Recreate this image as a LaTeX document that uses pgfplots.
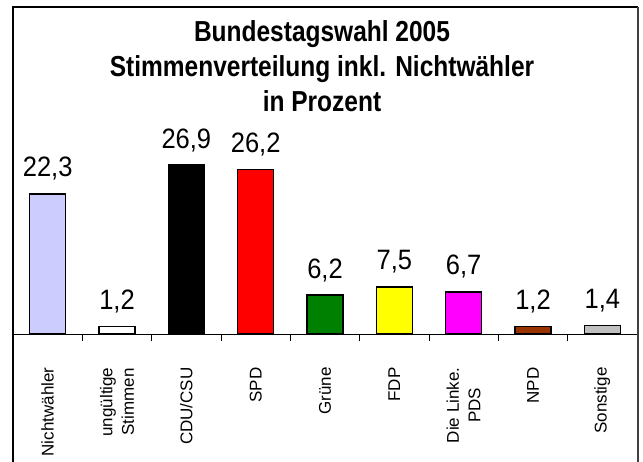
\documentclass[border=0pt]{standalone}
\usepackage{pgfplots}
\pgfplotsset{compat=1.18}
\usepackage{fontspec}
\setmainfont{Liberation Sans}
\definecolor{cNicht}{RGB}{204,204,255}
\definecolor{cNPD}{RGB}{153,51,0}
\definecolor{cGrau}{RGB}{192,192,192}
\definecolor{cGruen}{RGB}{0,128,0}
\definecolor{cMag}{RGB}{255,0,255}
\definecolor{cRot}{RGB}{255,0,0}
\definecolor{cGelb}{RGB}{255,255,0}
\begin{document}
\begin{tikzpicture}
\begin{axis}[
  name=ax,
  scale only axis,
  width=624pt, height=188.4pt,
  xmin=-0.5, xmax=8.5, ymin=0, ymax=30,
  clip=false,
  axis x line*=bottom,
  axis y line=none,
  x axis line style={-, line width=1pt},
  xtick={0,...,8},
  xticklabels={Nichtwähler,{ungültige\\Stimmen},CDU/CSU,SPD,Grüne,FDP,{Die Linke.\\PDS},NPD,Sonstige},
  major tick length=0pt,
  minor xtick={0.5,1.5,...,7.5},
  minor tick length=7pt,
  tick align=outside,
  tick style={black, line width=1pt},
  xticklabel style={rotate=90, anchor=east, align=center, font=\fontsize{17}{21.5}\selectfont},
  xticklabel shift=30pt,
  nodes near coords={\pgfmathprintnumber[use comma,fixed,fixed zerofill,precision=1,assume math mode=true]{\pgfplotspointmeta}},
  every node near coord/.append style={font=\fontsize{25.5}{30}\selectfont, black, yshift=9pt, yscale=1.1},
  every axis plot/.append style={ybar, bar width=36pt, draw=black, line width=1.3pt},
]
\addplot[fill=cNicht] coordinates {(0,22.3)};
\addplot[fill=white] coordinates {(1,1.2)};
\addplot[fill=black] coordinates {(2,26.9)};
\addplot[fill=cRot] coordinates {(3,26.2)};
\addplot[fill=cGruen] coordinates {(4,6.2)};
\addplot[fill=cGelb] coordinates {(5,7.5)};
\addplot[fill=cMag] coordinates {(6,6.7)};
\addplot[fill=cNPD] coordinates {(7,1.2)};
\addplot[fill=cGrau] coordinates {(8,1.4)};
\end{axis}
\node[align=center, anchor=north, inner sep=0pt, yscale=1.18, font=\bfseries\fontsize{24.5}{30}\selectfont]
  at ([xshift=309pt, yshift=314pt]ax.south west)
  {Bundestagswahl 2005\\Stimmenverteilung inkl. Nichtwähler\\in Prozent};
\draw[black, line width=1.2pt] ([yshift=-140pt]ax.south west) -- ([yshift=327pt]ax.south west)
  -- ([xshift=625pt, yshift=327pt]ax.south west);
\draw[black!75, line width=2pt] ([xshift=625pt, yshift=327pt]ax.south west) -- ([xshift=625pt, yshift=-140pt]ax.south west);
\pgfresetboundingbox
\path[use as bounding box] ([xshift=-13pt, yshift=-127pt]ax.south west) rectangle ++(643pt,461pt);
\end{tikzpicture}
\end{document}
